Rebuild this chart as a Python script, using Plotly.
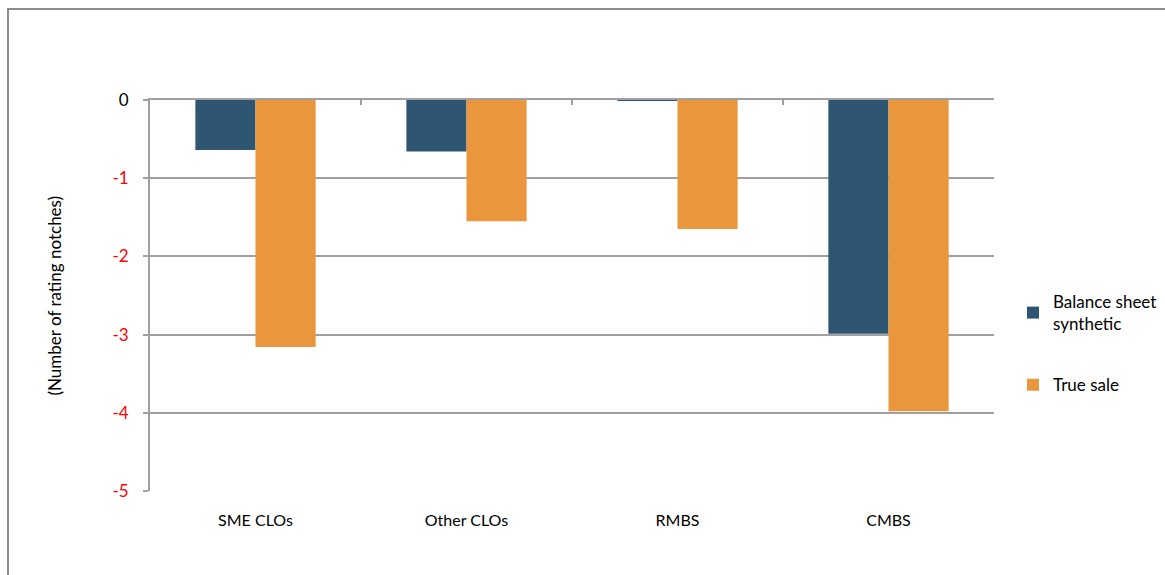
import plotly.graph_objects as go

categories = ["SME CLOs", "Other CLOs", "RMBS", "CMBS"]
balance_sheet_synthetic = [-0.64, -0.66, -0.01, -2.99]
true_sale = [-3.16, -1.55, -1.65, -3.98]
y_tick_vals = [0, -1, -2, -3, -4, -5]
y_tick_text = ["0", "<span style='color:#FF0000'>-1</span>", "<span style='color:#FF0000'>-2</span>",
               "<span style='color:#FF0000'>-3</span>", "<span style='color:#FF0000'>-4</span>",
               "<span style='color:#FF0000'>-5</span>"]

FONT = "Lato, 'Noto Sans', sans-serif"
GRID = "#A0A0A0"

fig = go.Figure()
fig.add_trace(go.Bar(x=categories, y=balance_sheet_synthetic, name="Balance sheet<br>synthetic",
                     marker=dict(color="#2E5572", line=dict(width=0)), legendgroup="a"))
fig.add_trace(go.Bar(x=categories, y=true_sale, name="True sale",
                     marker=dict(color="#EA963C", line=dict(width=0)), legendgroup="b"))
# helper trace to draw top axis with boundary ticks
fig.add_trace(go.Scatter(x=categories, y=[None] * len(categories), xaxis="x2", showlegend=False,
                         hoverinfo="skip", mode="markers"))

W, H = 1165, 575
L, R, T, B = 150, 171, 100, 84
pw, ph = W - L - R, H - T - B

def px(x):
    return (x - L) / pw

def py(y):
    return (H - B - y) / ph

fig.update_layout(
    width=W, height=H,
    margin=dict(l=L, r=R, t=T, b=B, autoexpand=False),
    paper_bgcolor="white", plot_bgcolor="white",
    font=dict(family=FONT, size=17, color="#000000"),
    barmode="group", bargap=0.43, bargroupgap=0,
    showlegend=True,
    legend=dict(xref="container", yref="container", x=1013 / W, y=1 - 284 / H,
                xanchor="left", yanchor="top",
                font=dict(family=FONT, size=17), tracegroupgap=36,
                itemwidth=30, bgcolor="rgba(0,0,0,0)"),
    xaxis=dict(categoryorder="array", categoryarray=categories, showline=False, ticks="",
               showgrid=False, zeroline=False, ticklabelstandoff=18, automargin=False,
               tickfont=dict(family=FONT, size=16), range=[-0.5, 3.5]),
    xaxis2=dict(overlaying="x", side="top", matches="x", showticklabels=False,
                categoryorder="array", categoryarray=categories, automargin=False,
                showline=True, linecolor=GRID, linewidth=2, ticks="inside", tickson="boundaries",
                ticklen=5, tickcolor=GRID, tickwidth=2, showgrid=False, zeroline=False,
                anchor="y", range=[-0.5, 3.5]),
    yaxis=dict(range=[-5, 0], tickvals=y_tick_vals, ticktext=y_tick_text, automargin=False,
               showgrid=True, gridcolor=GRID, gridwidth=1.5, zeroline=False,
               showline=True, linecolor=GRID, linewidth=2, ticks="outside", ticklen=5,
               tickcolor=GRID, tickwidth=2, ticklabelstandoff=11,
               tickfont=dict(family=FONT, size=17, color="#000000")),
    annotations=[dict(text="(Number of rating notches)", x=px(54), y=0.5, xref="paper", yref="paper",
                      textangle=-90, showarrow=False, font=dict(family=FONT, size=17),
                      xanchor="center", yanchor="middle")],
    shapes=[dict(type="rect", xref="paper", yref="paper", x0=px(8), x1=px(1180), y0=py(590), y1=py(9),
                 line=dict(color="#8C8C8C", width=2), layer="below")],
)

fig.write_html("out.html", config={"displayModeBar": False},
               post_script="document.body.style.margin='0';document.body.style.overflow='hidden';")
